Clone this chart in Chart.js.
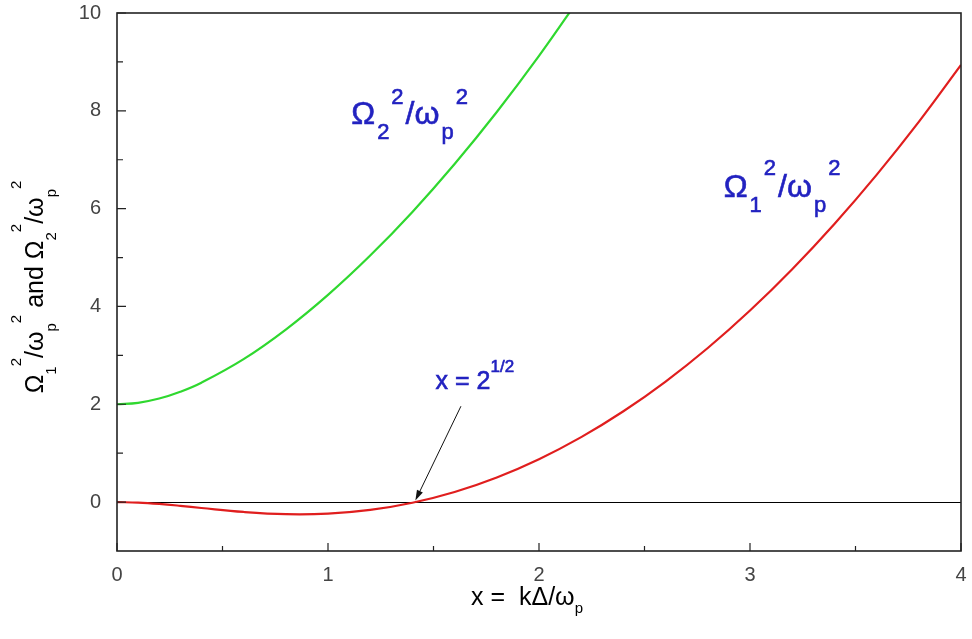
<!DOCTYPE html>
<html>
<head>
<meta charset="utf-8">
<title>Ω1²/ωp² and Ω2²/ωp² vs x = kΔ/ωp</title>
<script src="https://cdn.jsdelivr.net/npm/chart.js@4.4.0/dist/chart.umd.min.js"></script>
<style>
  html, body { margin: 0; padding: 0; background: #fff; }
  #wrap { width: 972px; height: 639px; }
</style>
</head>
<body>
<div id="wrap"><canvas id="dispersion" width="972" height="639"></canvas></div>
<script>
'use strict';

// lower branch, Ω1²/ωp², over x = kΔ/ωp
var xLower   = [0, 0.1, 0.2, 0.3, 0.4, 0.6, 0.8, 1.0, 1.2, 1.4, 1.6, 1.8, 2.0, 2.2, 2.4, 2.6, 2.8, 3.0, 3.2, 3.4, 3.6, 3.8, 4.0];
var omega1Sq = [0, -0.010, -0.037, -0.076, -0.121, -0.202, -0.247, -0.236, -0.160, -0.013, 0.207, 0.504, 0.877, 1.328, 1.857, 2.465, 3.151, 3.917, 4.762, 5.687, 6.691, 7.774, 8.938];

// upper branch, Ω2²/ωp² (leaves the frame just past x = 2.1)
var xUpper   = [0, 0.1, 0.2, 0.3, 0.4, 0.6, 0.8, 1.0, 1.2, 1.4, 1.6, 1.8, 2.0, 2.2];
var omega2Sq = [2.000, 2.030, 2.117, 2.256, 2.441, 2.922, 3.527, 4.236, 5.040, 5.933, 6.913, 7.976, 9.123, 10.352];

var xTicks = [0, 1, 2, 3, 4];
var xMinor = [0.5, 1.5, 2.5, 3.5];
var yTicks = [0, 2, 4, 6, 8, 10];
var yMinor = [1, 3, 5, 7, 9];

var FONT = '"Liberation Sans", Arial, Helvetica, sans-serif';
var BLUE = '#2222c0';

function pts(xs, ys) {
  return xs.map(function (x, i) { return { x: x, y: ys[i] }; });
}

// text with sub/superscripts: parts are [text, 0 | -1 (sub) | 1 (sup)]
function richWidth(ctx, spec) {
  var w = 0;
  spec.parts.forEach(function (p) {
    ctx.font = (p[1] === 0 ? spec.size : spec.small) + 'px ' + FONT;
    w += ctx.measureText(p[0]).width + (spec.gap || 0);
  });
  return w;
}
function drawRich(ctx, spec, x, y) {
  ctx.textBaseline = 'alphabetic';
  ctx.textAlign = 'left';
  spec.parts.forEach(function (p) {
    var dy = p[1] === -1 ? spec.subDy : (p[1] === 1 ? spec.supDy : 0);
    ctx.font = (p[1] === 0 ? spec.size : spec.small) + 'px ' + FONT;
    ctx.fillText(p[0], x, y + dy);
    if (spec.heavy) {
      ctx.lineWidth = spec.heavy;
      ctx.strokeStyle = ctx.fillStyle;
      ctx.strokeText(p[0], x, y + dy);
    }
    x += ctx.measureText(p[0]).width + (spec.gap || 0);
  });
}

var yTitle = {
  size: 25, small: 15, subDy: 13, supDy: -22,
  parts: [['Ω', 0], ['1', -1], ['2', 1], ['/ω', 0], ['p', -1], ['2', 1],
          [' and ', 0], ['Ω', 0], ['2', -1], ['2', 1], ['/ω', 0], ['p', -1], ['2', 1]]
};
var xTitle = {
  size: 25, small: 15, subDy: 8, supDy: -12,
  parts: [['x =  kΔ/ω', 0], ['p', -1]]
};
var label2 = {
  size: 32, small: 22, subDy: 15, supDy: -20, gap: 2, heavy: 0.6, at: { x: 1.11, y: 7.73 },
  parts: [['Ω', 0], ['2', -1], ['2', 1], ['/ω', 0], ['p', -1], ['2', 1]]
};
var label1 = {
  size: 32, small: 22, subDy: 15, supDy: -22, gap: 2, heavy: 0.6, at: { x: 2.875, y: 6.24 },
  parts: [['Ω', 0], ['1', -1], ['2', 1], ['/ω', 0], ['p', -1], ['2', 1]]
};
var rootLabel = {
  size: 25, small: 17, subDy: 8, supDy: -17, heavy: 0.6, at: { x: 1.51, y: 2.31 },
  parts: [['x = 2', 0], ['1/2', 1]]
};
// arrow from the label down to the zero crossing at x = 2^(1/2)
var arrow = { from: { x: 1.63, y: 1.96 }, to: { x: 1.414, y: 0.03 } };

var framePlugin = {
  id: 'frame',
  beforeDatasetsDraw: function (chart) {
    var ctx = chart.ctx, a = chart.chartArea, ys = chart.scales.y;
    var y0 = Math.round(ys.getPixelForValue(0)) + 0.5;
    ctx.save();
    ctx.strokeStyle = '#000';
    ctx.lineWidth = 1;
    ctx.beginPath();
    ctx.moveTo(a.left, y0);
    ctx.lineTo(a.right, y0);
    ctx.stroke();
    ctx.restore();
  },
  afterDatasetsDraw: function (chart) {
    var ctx = chart.ctx, a = chart.chartArea;
    var xs = chart.scales.x, ys = chart.scales.y;
    ctx.save();
    ctx.strokeStyle = '#222';
    ctx.lineWidth = 1.6;
    ctx.strokeRect(a.left, a.top, a.right - a.left, a.bottom - a.top);

    // inward ticks
    ctx.lineWidth = 1.2;
    ctx.beginPath();
    xTicks.forEach(function (v) { var p = xs.getPixelForValue(v); ctx.moveTo(p, a.bottom); ctx.lineTo(p, a.bottom - 8); });
    xMinor.forEach(function (v) { var p = xs.getPixelForValue(v); ctx.moveTo(p, a.bottom); ctx.lineTo(p, a.bottom - 5); });
    yTicks.forEach(function (v) { var p = ys.getPixelForValue(v); ctx.moveTo(a.left, p); ctx.lineTo(a.left + 9, p); });
    yMinor.forEach(function (v) { var p = ys.getPixelForValue(v); ctx.moveTo(a.left, p); ctx.lineTo(a.left + 6, p); });
    ctx.stroke();

    // arrow
    var x1 = xs.getPixelForValue(arrow.from.x), y1 = ys.getPixelForValue(arrow.from.y);
    var x2 = xs.getPixelForValue(arrow.to.x), y2 = ys.getPixelForValue(arrow.to.y);
    var ang = Math.atan2(y2 - y1, x2 - x1);
    ctx.strokeStyle = '#111';
    ctx.fillStyle = '#111';
    ctx.lineWidth = 1;
    ctx.beginPath();
    ctx.moveTo(x1, y1);
    ctx.lineTo(x2 - 8 * Math.cos(ang), y2 - 8 * Math.sin(ang));
    ctx.stroke();
    ctx.beginPath();
    ctx.moveTo(x2, y2);
    ctx.lineTo(x2 - 11 * Math.cos(ang - 0.3), y2 - 11 * Math.sin(ang - 0.3));
    ctx.lineTo(x2 - 11 * Math.cos(ang + 0.3), y2 - 11 * Math.sin(ang + 0.3));
    ctx.closePath();
    ctx.fill();

    // curve labels
    ctx.fillStyle = BLUE;
    [label2, label1, rootLabel].forEach(function (l) {
      drawRich(ctx, l, xs.getPixelForValue(l.at.x), ys.getPixelForValue(l.at.y));
    });
    ctx.restore();
  },
  afterDraw: function (chart) {
    var ctx = chart.ctx;
    ctx.save();
    ctx.fillStyle = '#000';
    var wx = richWidth(ctx, xTitle);
    drawRich(ctx, xTitle, 527 - wx / 2, 605);

    var wy = richWidth(ctx, yTitle);
    ctx.translate(43, 287);
    ctx.rotate(-Math.PI / 2);
    drawRich(ctx, yTitle, -wy / 2, 0);
    ctx.restore();
  }
};

var ctx = document.getElementById('dispersion').getContext('2d');
new Chart(ctx, {
  type: 'line',
  data: {
    datasets: [
      {
        label: 'Ω2²/ωp²',
        data: pts(xUpper, omega2Sq),
        borderColor: '#2fd82f',
        borderWidth: 2.2,
        pointRadius: 0,
        tension: 0.4
      },
      {
        label: 'Ω1²/ωp²',
        data: pts(xLower, omega1Sq),
        borderColor: '#e01e1e',
        borderWidth: 2.2,
        pointRadius: 0,
        tension: 0.4
      }
    ]
  },
  options: {
    responsive: false,
    animation: false,
    layout: { padding: { left: 0, right: 11, top: 13, bottom: 0 } },
    plugins: { legend: { display: false }, tooltip: { enabled: false } },
    scales: {
      x: {
        type: 'linear',
        min: 0,
        max: 4,
        afterBuildTicks: function (s) { s.ticks = xTicks.map(function (v) { return { value: v }; }); },
        afterFit: function (s) { s.height = 88; s.paddingLeft = 0; s.paddingRight = 0; },
        grid: { display: false, drawTicks: false },
        border: { display: false },
        ticks: { color: '#444', padding: 12, maxRotation: 0, font: { family: FONT, size: 20 } }
      },
      y: {
        type: 'linear',
        min: -1,
        max: 10,
        afterBuildTicks: function (s) { s.ticks = yTicks.map(function (v) { return { value: v }; }); },
        afterFit: function (s) { s.width = 117; s.paddingTop = 0; s.paddingBottom = 0; },
        grid: { display: false, drawTicks: false },
        border: { display: false },
        ticks: { color: '#444', padding: 16, font: { family: FONT, size: 20 } }
      }
    }
  },
  plugins: [framePlugin]
});
</script>
</body>
</html>
